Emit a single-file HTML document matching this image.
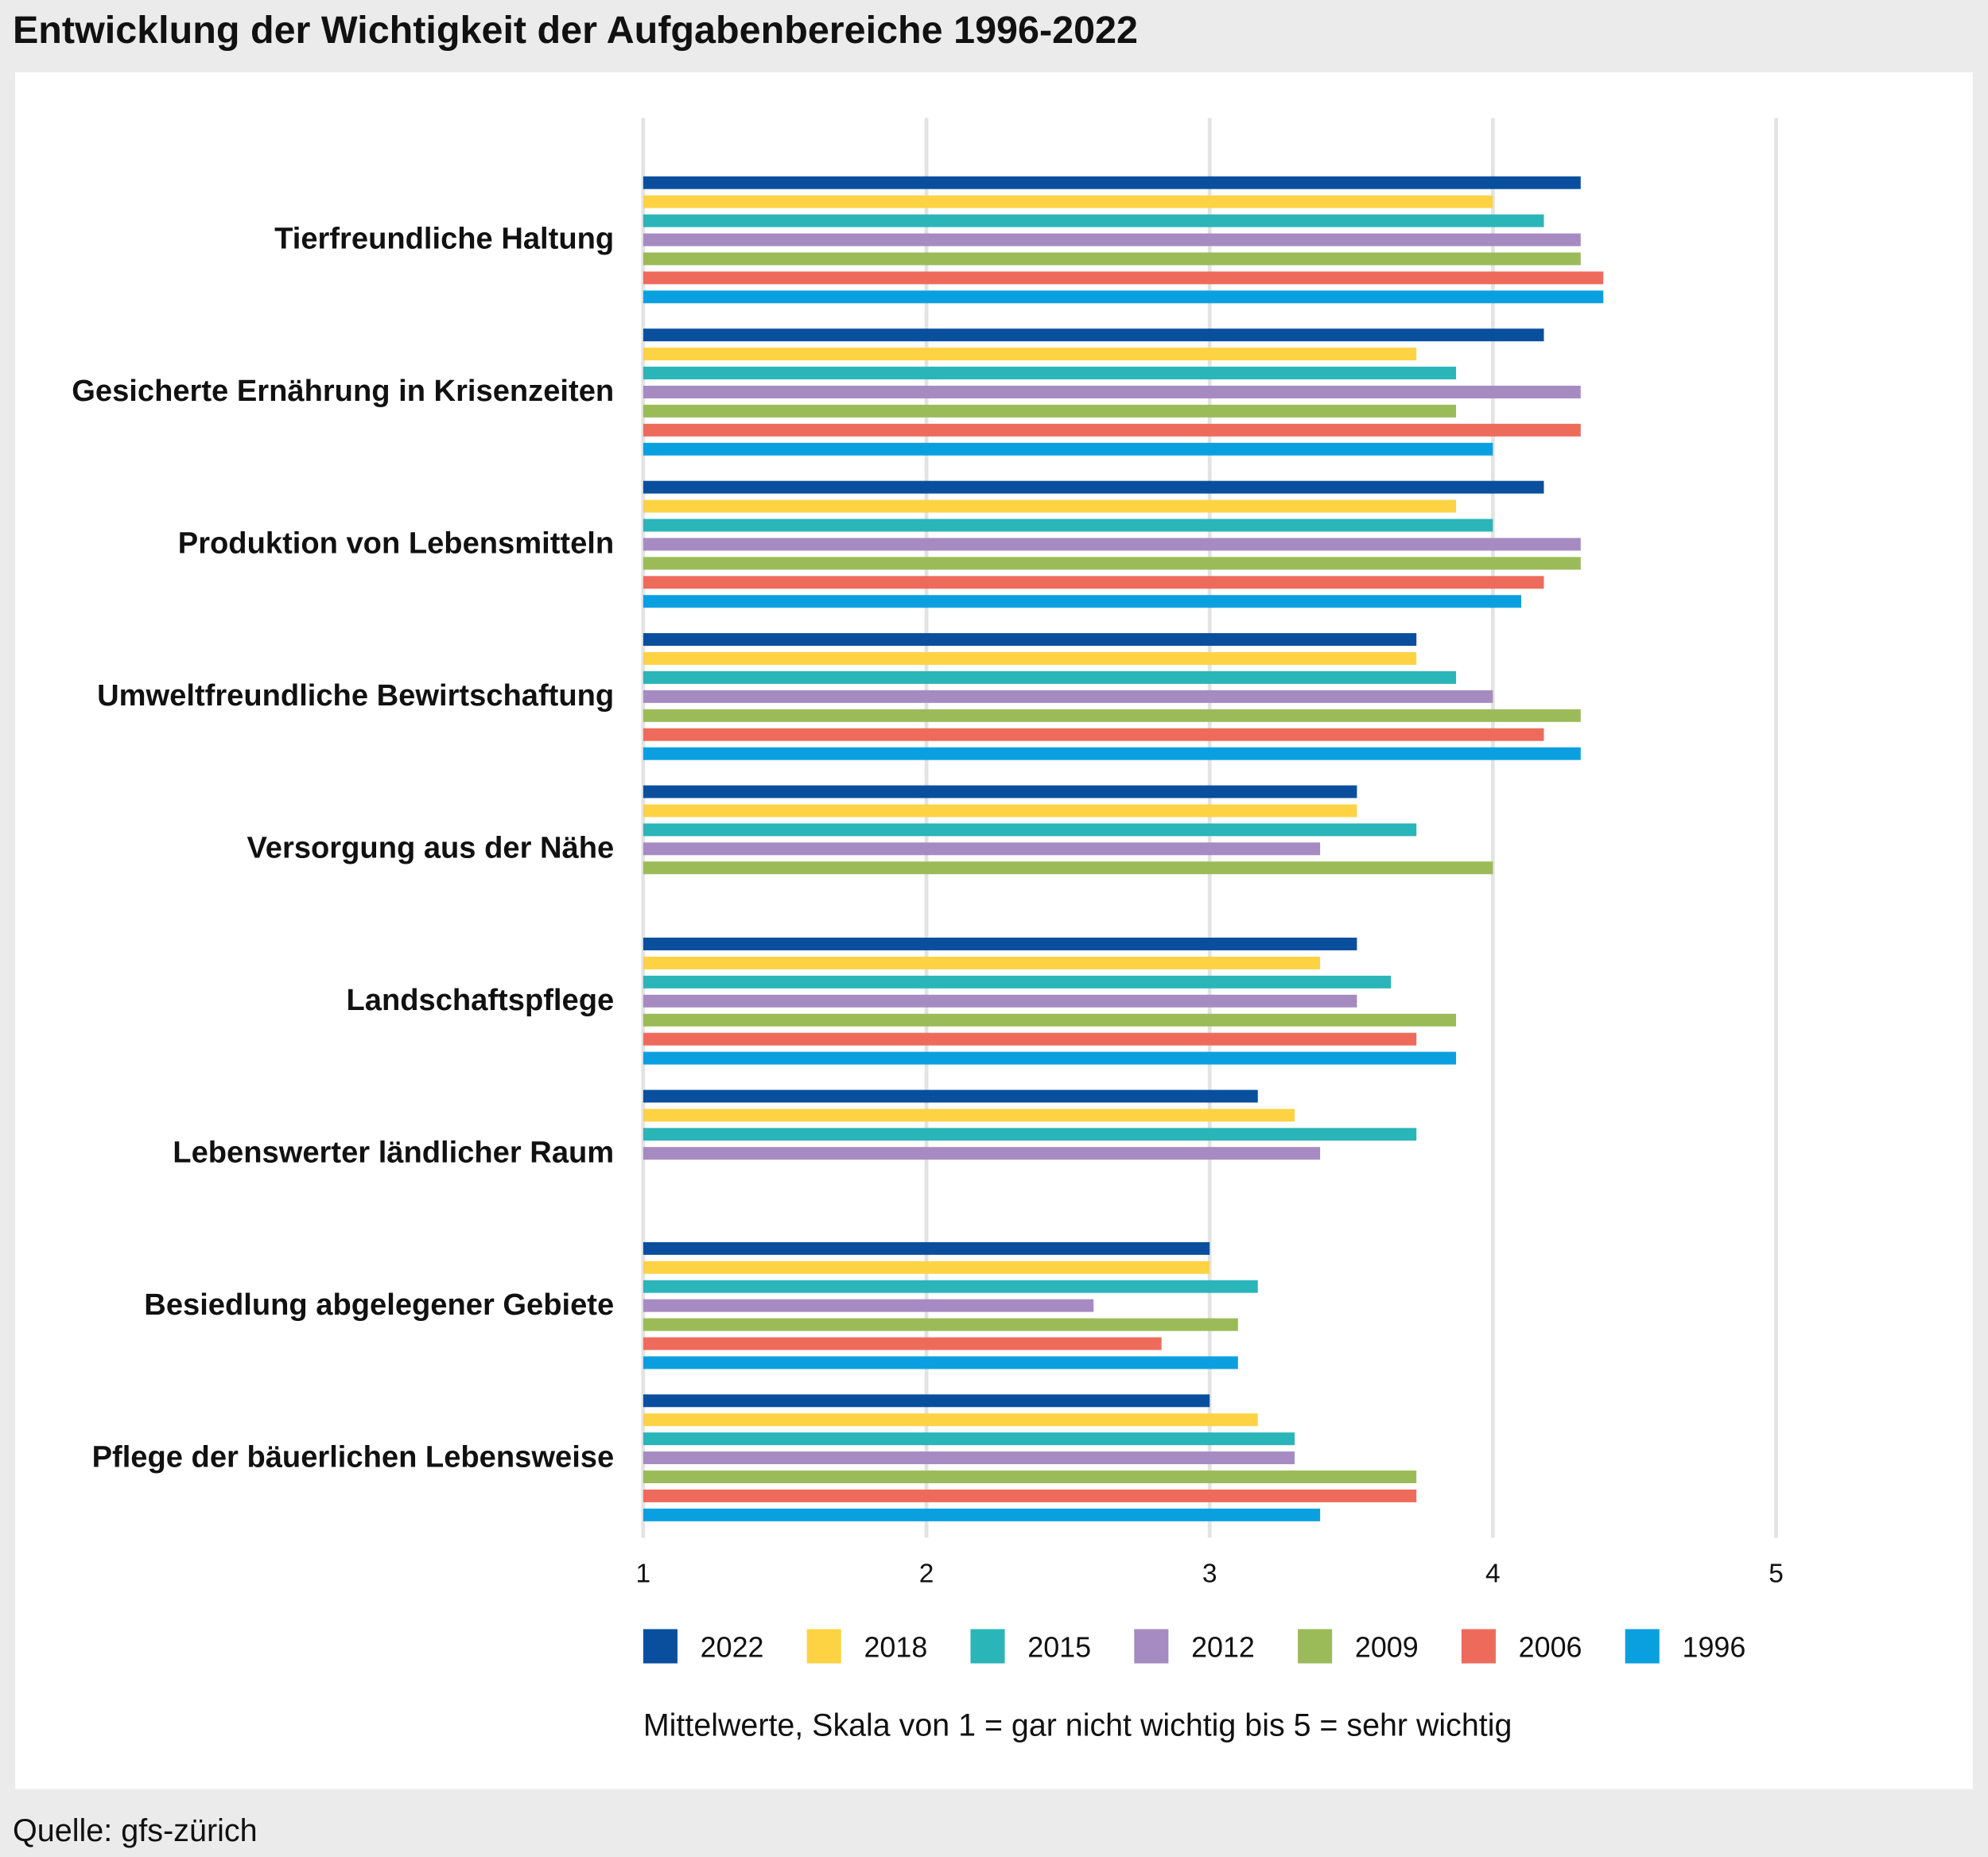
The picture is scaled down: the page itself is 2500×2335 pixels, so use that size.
<!DOCTYPE html>
<html><head><meta charset="utf-8"><style>
html,body{margin:0;padding:0;background:#ebebeb;}
svg{display:block;font-family:"Liberation Sans Narrow","Liberation Sans",sans-serif;}
</style></head><body>
<svg id="chart" width="2500" height="2335" viewBox="0 0 1567 1463.6" xmlns="http://www.w3.org/2000/svg">
<rect x="0" y="0" width="1567" height="1463.6" fill="#ebebeb"/>
<text x="10" y="34" font-size="30.4" font-weight="bold" fill="#111">Entwicklung der Wichtigkeit der Aufgabenbereiche 1996-2022</text>
<rect x="12" y="57" width="1543" height="1353" fill="#fff"/>
<g id="grid"></g><g id="bars"></g><g id="labels"></g><g id="legend"></g>
<text x="507" y="1368" font-size="24.7" fill="#111">Mittelwerte, Skala von 1 = gar nicht wichtig bis 5 = sehr wichtig</text>
<text x="10" y="1451" font-size="24.8" fill="#111">Quelle: gfs-zürich</text>
</svg>
<script>
const categories=["Tierfreundliche Haltung","Gesicherte Ernährung in Krisenzeiten","Produktion von Lebensmitteln","Umweltfreundliche Bewirtschaftung","Versorgung aus der Nähe","Landschaftspflege","Lebenswerter ländlicher Raum","Besiedlung abgelegener Gebiete","Pflege der bäuerlichen Lebensweise"];
const years=["2022","2018","2015","2012","2009","2006","1996"];
const colors=["#0a4f9e","#fdd344","#2ab5b8","#a68bc2","#9bbb59","#ee6b5c","#0aa0e0"];
const v2022=[4.31,4.18,4.18,3.73,3.52,3.52,3.17,3.0,3.0];
const v2018=[4.0,3.73,3.87,3.73,3.52,3.39,3.3,3.0,3.17];
const v2015=[4.18,3.87,4.0,3.87,3.73,3.64,3.73,3.17,3.3];
const v2012=[4.31,4.31,4.31,4.0,3.39,3.52,3.39,2.59,3.3];
const v2009=[4.31,3.87,4.31,4.31,4.0,3.87,null,3.1,3.73];
const v2006=[4.39,4.31,4.18,4.18,null,3.73,null,2.83,3.73];
const v1996=[4.39,4.0,4.1,4.31,null,3.87,null,3.1,3.39];
const series=[v2022,v2018,v2015,v2012,v2009,v2006,v1996];
const ticks=[1,2,3,4,5];
const NS="http://www.w3.org/2000/svg";
const x=v=>507+(v-1)*223.25;
const gTop=i=>139+i*120;
function mk(tag,attrs,parent,txt){const e=document.createElementNS(NS,tag);for(const k in attrs)e.setAttribute(k,attrs[k]);if(txt!==undefined)e.textContent=txt;document.getElementById(parent).appendChild(e);return e;}
ticks.forEach(t=>{
 let l=mk("line",{x1:x(t),x2:x(t),y1:93,y2:1212,stroke:"#e3e3e3","stroke-width":3},"grid");
 
 
 let tx=mk("text",{x:x(t),y:1247,"font-size":21,"text-anchor":"middle",fill:"#111"},"grid",String(t));
 
 
});
categories.forEach((c,i)=>{
 let t=mk("text",{x:484,y:gTop(i)+57,"font-size":23.9,"font-weight":"bold","text-anchor":"end",fill:"#111"},"labels",c);
 
 
 series.forEach((s,j)=>{
  if(s[i]==null)return;
  let r=mk("rect",{x:x(1),y:gTop(i)+j*15,width:x(s[i])-x(1),height:10,fill:colors[j]},"bars");
  
  
 });
});
years.forEach((y,j)=>{
 const lx=507+j*129;
 let r=mk("rect",{x:lx,y:1284,width:27,height:27,fill:colors[j]},"legend");
 
 
 let t=mk("text",{x:lx+45,y:1306,"font-size":22.5,fill:"#111"},"legend",y);
 
 
});
</script>
</body></html>
